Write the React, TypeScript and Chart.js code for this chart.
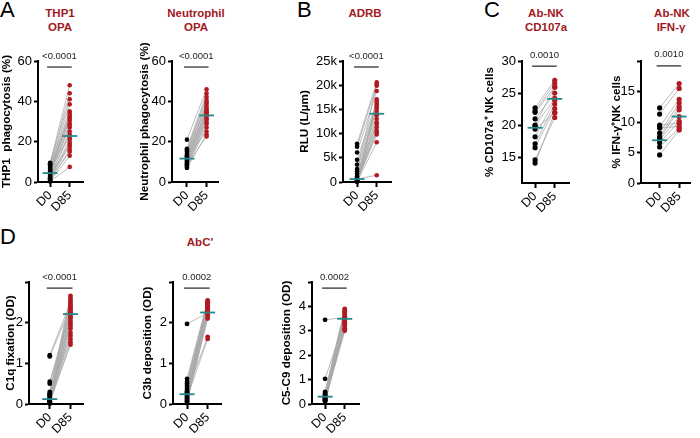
import React, { useEffect, useRef } from 'react';
import { Chart, registerables } from 'chart.js';
Chart.register(...registerables);

const FONT = "'Liberation Sans', Arial, Helvetica, sans-serif";
const RED = '#B01A20';
const TITLE_RED = '#A1191E';
const TEAL = '#23888C';
const PAIR = '#A9A9A9';

// ---------- data ----------
const timepoints = ['D0', 'D85'];

const thp1D0 = [9.5, 8.8, 9.2, 7.5, 8.2, 6.0, 7.0, 5.5, 4.8, 6.5, 3.5, 5.0, 4.2, 2.5, 3.0, 8.5, 1.8, 2.2, 1.2, 4.0, 0.8, 1.5, 0.5, 0.3];
const thp1D85 = [48, 44, 41, 38.5, 35, 34, 33, 32, 31.5, 30.5, 29, 28, 27, 25, 23.5, 22, 21, 19.5, 18.5, 17.5, 16, 15, 13, 7.5];
const thp1Mean = [4.4, 22.8];

const neutD0 = [21, 16.5, 15.5, 16, 14, 13.5, 15, 12.5, 11.5, 13, 12, 10.5, 11, 9.5, 10, 8.5, 9, 8, 7.5, 12.5, 7, 8.5];
const neutD85 = [46, 44, 42.3, 40.7, 39.5, 38.7, 37.4, 36.5, 35.7, 35, 34.6, 34, 33.3, 32.5, 31.5, 30.8, 29.5, 28.8, 27, 25, 23.5, 22.6];
const neutMean = [11.6, 33.0];

const adrbD0 = [7900, 2200, 7300, 6100, 600, 4600, 300, 3600, 150, 2700, 1700, 100, 1200, 250, 800, 50, 500, 350, 200, 100, 650];
const adrbD85 = [20600, 20200, 19900, 18800, 17100, 16600, 16300, 16000, 15600, 15200, 14500, 13800, 13000, 12300, 12000, 11300, 10600, 10300, 9800, 8200, 1400];
const adrbMean = [600, 14100];

const cd107D0 = [22.7, 22.2, 22.0, 21.0, 19.9, 19.4, 18.2, 17.1, 16.5, 14.6, 14.1, 20.0];
const cd107D85 = [27.0, 26.5, 25.9, 25.0, 24.2, 21.9, 23.9, 23.3, 22.6, 21.2, 22.0, 26.0];
const cd107Mean = [19.6, 24.1];

const ifnD0 = [12.3, 11.3, 9.5, 9.2, 8.2, 7.6, 7.1, 6.6, 5.9, 4.6, 7.3, 9.0];
const ifnD85 = [16.3, 15.5, 9.8, 13.7, 13.1, 12.5, 10.9, 10.1, 9.0, 8.7, 12.0, 9.3];
const ifnMean = [7.0, 10.9];

const c1qD0 = [0.3, 0.25, 0.2, 1.2, 0.15, 0.1, 1.17, 0.55, 0.08, 0.5, 0.05, 0.22, 0.03, 0.12, 0.18, 0.02, 0.06, 0.04, 0.26, 0.1, 0.01, 0.07];
const c1qD85 = [2.66, 2.6, 2.55, 2.5, 2.45, 2.41, 2.37, 2.33, 2.28, 2.25, 2.2, 2.15, 2.1, 2.04, 1.98, 1.92, 1.85, 1.75, 1.68, 1.6, 1.52, 1.46];
const c1qMean = [0.12, 2.21];

const c3bD0 = [0.62, 0.55, 0.5, 0.45, 0.4, 0.35, 0.3, 0.28, 0.25, 0.22, 0.2, 0.18, 0.15, 0.12, 0.1, 1.97, 0.08, 0.06, 0.05, 0.3, 0.15];
const c3bD85 = [2.55, 2.52, 2.5, 2.48, 2.46, 2.44, 2.42, 2.4, 2.38, 2.36, 2.34, 2.32, 2.3, 2.28, 2.26, 2.24, 2.2, 2.15, 2.1, 1.65, 1.6];
const c3bMean = [0.24, 2.25];

const c59D0 = [0.5, 0.45, 0.4, 0.35, 0.32, 0.3, 0.28, 3.45, 0.25, 1.03, 0.22, 0.2, 0.18, 0.15, 0.12, 0.1, 0.2, 0.15];
const c59D85 = [3.9, 3.85, 3.8, 3.75, 3.7, 3.65, 3.6, 3.55, 3.5, 3.45, 3.4, 3.35, 3.3, 3.25, 3.2, 3.1, 3.05, 3.0];
const c59Mean = [0.3, 3.49];

const pValues = ['<0.0001', '<0.0001', '<0.0001', '0.0010', '0.0010', '<0.0001', '0.0002', '0.0002'];

const ticksPct = [0, 20, 40, 60];
const ticksRlu = [0, 5000, 10000, 15000, 20000, 25000];
const ticksCd107 = [15, 20, 25, 30];
const ticksIfn = [0, 5, 10, 15, 20];
const ticksOd3 = [0, 1, 2, 3];
const ticksOd5 = [0, 1, 2, 3, 4, 5];

// ---------- helpers ----------
const bracketPlugin = {
  id: 'bracket',
  afterDatasetsDraw(chart: any, _args: any, opts: any) {
    const { ctx } = chart;
    const xs = chart.scales.x;
    const ys = chart.scales.y;
    const yy = ys.getPixelForValue(opts.value);
    const xa = xs.getPixelForValue(1) - 3;
    const xb = xs.getPixelForValue(2) + 2;
    ctx.save();
    ctx.strokeStyle = '#222';
    ctx.lineWidth = 1.2;
    ctx.beginPath();
    ctx.moveTo(xa, yy);
    ctx.lineTo(xb, yy);
    ctx.stroke();
    ctx.fillStyle = '#222';
    ctx.font = `9.5px ${FONT}`;
    ctx.textAlign = 'center';
    ctx.textBaseline = 'alphabetic';
    ctx.fillText(opts.text, (xa + xb) / 2, yy - 8.5);
    ctx.restore();
  },
};

type Geo = { axisX: number; right: number; top: number; bottom: number; d0X: number; d85X: number; labelX: number };

type PanelProps = {
  d0: number[];
  d85: number[];
  mean: number[];
  p: string;
  bracket: number;
  yTitle: string;
  yMin: number;
  yMax: number;
  yTicks: number[];
  yLabel: (v: number) => string;
  geo: Geo;
  r: number;
};

function Panel(props: PanelProps) {
  const ref = useRef<HTMLCanvasElement>(null);
  const g = props.geo;
  const left = Math.floor(g.labelX - 7);
  const padTop = 24;
  const XH = 42;
  const top = g.top - padTop;
  const padR = Math.min(6, 700 - g.right);
  const width = g.right - left + padR;
  const height = g.bottom - top + XH;

  useEffect(() => {
    const { d0, d85, mean, r } = props;
    const k = g.d85X - g.d0X;
    const xMin = 1 - (g.d0X - g.axisX) / k;
    const xMax = 2 + (g.right - g.d85X) / k;
    const datasets: any[] = [];
    datasets.push({
      data: [{ x: 1, y: mean[0] }, { x: 2, y: mean[1] }],
      pointStyle: 'line', pointRadius: 7.5, pointBorderColor: TEAL, pointBorderWidth: 1.8,
      borderColor: TEAL, showLine: false, clip: false, order: 0,
    });
    datasets.push({
      data: d0.map((v) => ({ x: 1, y: v })),
      pointBackgroundColor: '#000', pointBorderWidth: 0, pointRadius: r, showLine: false, clip: false, order: 1,
    });
    datasets.push({
      data: d85.map((v) => ({ x: 2, y: v })),
      pointBackgroundColor: RED, pointBorderWidth: 0, pointRadius: r, showLine: false, clip: false, order: 2,
    });
    d0.forEach((v, i) => {
      datasets.push({
        data: [{ x: 1, y: v }, { x: 2, y: d85[i] }],
        showLine: true, borderColor: PAIR, borderWidth: 0.8, pointRadius: 0, clip: false, order: 3,
      });
    });
    const yW = g.axisX - left;
    const chart = new Chart(ref.current as HTMLCanvasElement, {
      type: 'scatter',
      data: { datasets },
      options: {
        responsive: false,
        animation: false,
        devicePixelRatio: 1,
        events: [],
        layout: { padding: { left: 0, right: padR, top: padTop, bottom: 0 } },
        plugins: {
          legend: { display: false },
          tooltip: { enabled: false },
          bracket: { value: props.bracket, text: props.p },
        } as any,
        scales: {
          x: {
            type: 'linear',
            min: xMin,
            max: xMax,
            afterBuildTicks: (s: any) => { s.ticks = [{ value: 1 }, { value: 2 }]; },
            afterFit: (s: any) => { s.height = XH; },
            ticks: {
              autoSkip: false, minRotation: 45, maxRotation: 45, padding: 1, color: '#000',
              font: { family: FONT, size: 12.5 },
              callback: (v: any) => timepoints[Math.round(v) - 1] ?? '',
            },
            grid: { drawOnChartArea: false, drawTicks: true, tickLength: 5, tickWidth: 2, color: '#000', tickColor: '#000' },
            border: { display: true, color: '#000', width: 2 },
          },
          y: {
            type: 'linear',
            min: props.yMin,
            max: props.yMax,
            afterBuildTicks: (s: any) => { s.ticks = props.yTicks.map((v) => ({ value: v })); },
            afterFit: (s: any) => { s.width = yW; },
            ticks: {
              padding: 2, color: '#000', font: { family: FONT, size: 13 },
              callback: (v: any) => props.yLabel(Number(v)),
            },
            title: {
              display: true, text: props.yTitle, color: '#000',
              font: { family: FONT, size: 11.7, weight: 'bold' }, padding: { top: 0, bottom: 0 },
            },
            grid: { drawOnChartArea: false, drawTicks: true, tickLength: 4, tickWidth: 2, color: '#000', tickColor: '#000' },
            border: { display: true, color: '#000', width: 2 },
          },
        },
      } as any,
      plugins: [bracketPlugin as any],
    });
    return () => chart.destroy();
  }, []);

  return (
    <canvas
      ref={ref}
      width={width}
      height={height}
      style={{ position: 'absolute', left, top, width, height }}
    />
  );
}

function Label(p: { text: string; x: number; baseline: number; size: number; bold?: boolean; color?: string; center?: boolean }) {
  const top = p.baseline - 0.8465 * p.size;
  return (
    <div
      style={{
        position: 'absolute', left: p.x, top, fontSize: p.size, lineHeight: `${p.size}px`,
        fontWeight: p.bold ? 700 : 400, color: p.color ?? '#000', whiteSpace: 'nowrap',
        transform: p.center ? 'translateX(-50%)' : undefined, fontFamily: FONT,
      }}
    >
      {p.text}
    </div>
  );
}

const plain = (v: number) => String(v);
const kLabel = (v: number) => (v === 0 ? '0' : `${v / 1000}k`);
const hideTop = (maxV: number) => (v: number) => (v === maxV ? '' : String(v));

export default function App() {
  const panels: PanelProps[] = [
    { d0: thp1D0, d85: thp1D85, mean: thp1Mean, p: pValues[0], bracket: 57, yTitle: 'THP1  phagocytosis (%)', yMin: 0, yMax: 60, yTicks: ticksPct, yLabel: plain, r: 2.3,
      geo: { axisX: 38, right: 87, top: 61, bottom: 182, d0X: 51, d85X: 72, labelX: 7 } },
    { d0: neutD0, d85: neutD85, mean: neutMean, p: pValues[1], bracket: 57, yTitle: 'Neutrophil phagocytosis (%)', yMin: 0, yMax: 60, yTicks: ticksPct, yLabel: plain, r: 2.3,
      geo: { axisX: 172, right: 222, top: 61, bottom: 182, d0X: 188, d85X: 209, labelX: 145 } },
    { d0: adrbD0, d85: adrbD85, mean: adrbMean, p: pValues[2], bracket: 23760, yTitle: 'RLU (L/µm)', yMin: 0, yMax: 25000, yTicks: ticksRlu, yLabel: kLabel, r: 2.3,
      geo: { axisX: 343, right: 395, top: 61, bottom: 182, d0X: 358, d85X: 379, labelX: 305 } },
    { d0: cd107D0, d85: cd107D85, mean: cd107Mean, p: pValues[3], bracket: 29.2, yTitle: '% CD107a⁺ NK cells', yMin: 11, yMax: 30, yTicks: ticksCd107, yLabel: plain, r: 2.6,
      geo: { axisX: 522, right: 573, top: 61, bottom: 183, d0X: 536, d85X: 557, labelX: 490 } },
    { d0: ifnD0, d85: ifnD85, mean: ifnMean, p: pValues[4], bracket: 19.2, yTitle: '% IFN-γ⁺NK cells', yMin: 0, yMax: 20, yTicks: ticksIfn, yLabel: hideTop(20), r: 2.6,
      geo: { axisX: 641, right: 697, top: 61, bottom: 183, d0X: 662, d85X: 684, labelX: 617 } },
    { d0: c1qD0, d85: c1qD85, mean: c1qMean, p: pValues[5], bracket: 2.85, yTitle: 'C1q fixation (OD)', yMin: 0, yMax: 3, yTicks: ticksOd3, yLabel: hideTop(3), r: 2.4,
      geo: { axisX: 29, right: 87, top: 282, bottom: 404, d0X: 51, d85X: 73, labelX: 11 } },
    { d0: c3bD0, d85: c3bD85, mean: c3bMean, p: pValues[6], bracket: 2.85, yTitle: 'C3b deposition (OD)', yMin: 0, yMax: 3, yTicks: ticksOd3, yLabel: hideTop(3), r: 2.4,
      geo: { axisX: 173, right: 225, top: 282, bottom: 404, d0X: 188, d85X: 210, labelX: 148 } },
    { d0: c59D0, d85: c59D85, mean: c59Mean, p: pValues[7], bracket: 4.75, yTitle: 'C5-C9 deposition (OD)', yMin: 0, yMax: 5, yTicks: ticksOd5, yLabel: hideTop(5), r: 2.4,
      geo: { axisX: 312, right: 363, top: 282, bottom: 404, d0X: 326, d85X: 347, labelX: 287 } },
  ];

  return (
    <div style={{ position: 'absolute', left: 0, top: 0, width: 700, height: 438, overflow: 'hidden', background: '#fff', fontFamily: FONT }}>
      {panels.map((p, i) => <Panel key={i} {...p} />)}
      <Label text="A" x={0} baseline={17.5} size={22} />
      <Label text="B" x={297} baseline={18} size={22} />
      <Label text="C" x={484} baseline={18} size={22} />
      <Label text="D" x={0} baseline={245} size={22} />
      <Label text="THP1" x={60} baseline={18} size={11.5} bold color={TITLE_RED} center />
      <Label text="OPA" x={60} baseline={31.5} size={11.5} bold color={TITLE_RED} center />
      <Label text="Neutrophil" x={196} baseline={18} size={11.5} bold color={TITLE_RED} center />
      <Label text="OPA" x={196} baseline={31.5} size={11.5} bold color={TITLE_RED} center />
      <Label text="ADRB" x={365} baseline={17.5} size={11.5} bold color={TITLE_RED} center />
      <Label text="Ab-NK" x={546} baseline={17.5} size={11.5} bold color={TITLE_RED} center />
      <Label text="CD107a" x={546} baseline={31.5} size={11.5} bold color={TITLE_RED} center />
      <Label text="Ab-NK" x={672} baseline={17.5} size={11.5} bold color={TITLE_RED} center />
      <Label text="IFN-γ" x={671} baseline={31.5} size={11.5} bold color={TITLE_RED} center />
      <Label text="AbC'" x={200} baseline={247} size={11.5} bold color={TITLE_RED} center />
    </div>
  );
}
